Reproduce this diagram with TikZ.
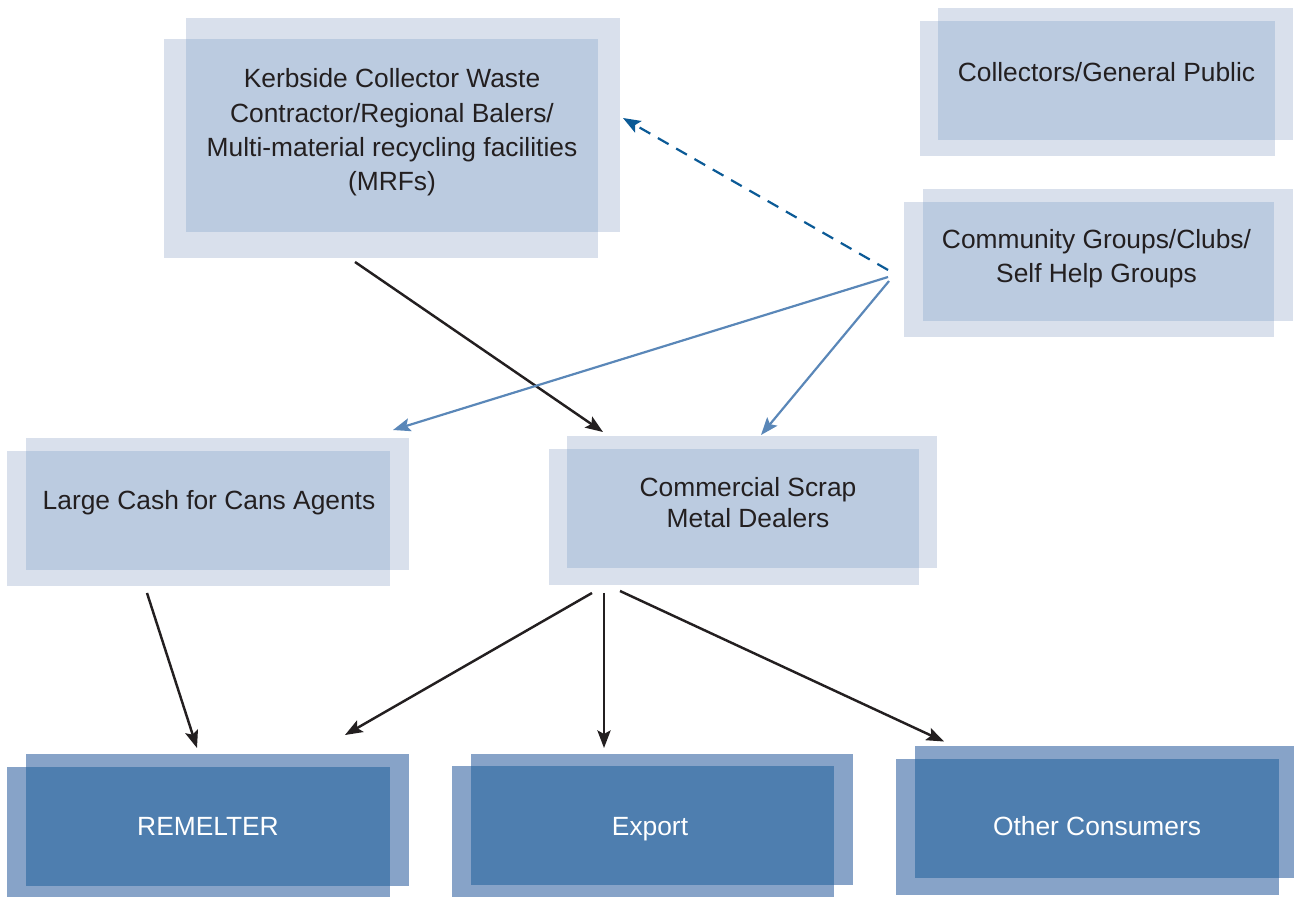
\documentclass[tikz,border=0pt]{standalone}
\usepackage{fontspec}
\setmainfont{Liberation Sans}
\usetikzlibrary{arrows.meta,calc,backgrounds}

\definecolor{boxlite}{HTML}{D9E0EC}
\definecolor{boxmid}{HTML}{BBCBE0}
\definecolor{endlite}{HTML}{87A3C8}
\definecolor{enddark}{HTML}{4E7EAF}
\definecolor{boxtext}{HTML}{231F20}
\definecolor{dashblue}{HTML}{0B5A96}
\definecolor{linkblue}{HTML}{5A87B8}

\tikzset{
  box/.style={inner sep=0pt, outer sep=0pt, minimum height=2.38cm},
  srcbox/.style={box, fill=boxmid},
  endbox/.style={box, fill=enddark},
  lbl/.style={inner sep=0pt, align=center, text=boxtext, font=\fontsize{15}{19.5}\selectfont},
  endlbl/.style={lbl, text=white},
  flow/.style={-{Stealth[length=10pt,width=7.5pt,inset=2pt]}, line width=1.4pt, color=boxtext},
  feed/.style={flow, line width=1.25pt, color=linkblue},
  maybe/.style={flow, line width=1.25pt, color=dashblue, dash pattern=on 7pt off 5pt},
}

\begin{document}
\begin{tikzpicture}[x=0.02cm, y=-0.02cm]
	\useasboundingbox (0,0) rectangle (1294,896);
	
	% sources
	\node[srcbox, minimum width=8.24cm, minimum height=3.86cm] (kerb) at (392,135.5) {};
	\node[srcbox, minimum width=6.74cm] (coll) at (1106.5,80.5) {};
	\node[srcbox, minimum width=7.02cm] (comm) at (1098.5,261.5) {};
	
	% middlemen
	\node[srcbox, minimum width=7.28cm] (cash) at (208,510.5) {};
	\node[srcbox, minimum width=7.04cm] (dealer) at (743,508.5) {};
	
	% end users
	\node[endbox, minimum width=7.28cm] (remelt) at (208,826.5) {};
	\node[endbox, minimum width=7.26cm] (export) at (652.5,825.5) {};
	\node[endbox, minimum width=7.28cm] (other) at (1097,818) {};
	
	% the two offset sheets behind each box
	\begin{scope}[on background layer]
		\foreach \n/\e/\t/\b/\c in {kerb/22/21/26/boxlite, coll/18/13/16/boxlite,
			comm/19/13/16/boxlite, cash/19/13/16/boxlite, dealer/18/13/17/boxlite,
			remelt/19/13/16/endlite, export/19/12/16/endlite, other/19/13/17/endlite}
		{
			\fill[\c] (\n.south west) rectangle ($(\n.north east)+(\e,-\t)$);
			\fill[\c] ($(\n.south west)+(-\e,\b)$) rectangle (\n.north east);
		}
	\end{scope}
	
	% box texts
	\node[lbl] (kerb-t) at ($(kerb)+(0,-3)$)
		{Kerbside Collector Waste\\Contractor/Regional Balers/\\Multi-material recycling facilities\\(MRFs)};
	\node[lbl] (coll-t) at ($(coll)+(0,-8)$) {Collectors/General Public};
	\node[lbl] (comm-t) at ($(comm)+(-2,-2.5)$) {Community Groups/Clubs/\\Self Help Groups};
	\node[lbl] (cash-t) at ($(cash)+(1,-8)$) {Large Cash for Cans Agents};
	\node[lbl, font=\fontsize{15}{18}\selectfont] (dealer-t) at ($(dealer)+(5,-6)$) {Commercial Scrap\\Metal Dealers};
	\node[endlbl] (remelt-t) at (remelt) {REMELTER};
	\node[endlbl] (export-t) at ($(export)+(-2.5,4)$) {Export};
	\node[endlbl] (other-t) at ($(other)+(0,8)$) {Other Consumers};
	
	% flows
	\draw[flow] ($(kerb.south)+(-37,30)$) -- ($(dealer.north)+(-140,-17)$);
	\draw[maybe] ($(comm.west)+(-35,8.5)$) -- ($(kerb.east)+(25,-17.5)$);
	\draw[feed] ($(comm.west)+(-35,15.5)$) -- ($(cash.north east)+(3,-21)$);
	\draw[feed] ($(comm.west)+(-34,19.5)$) -- ($(dealer.north)+(18,-14)$);
	\draw[flow] ($(cash.south)+(-61,23)$) -- ($(remelt.north)+(-11,-19)$);
	\draw[flow] ($(dealer.south)+(-151,25)$) -- ($(remelt.north east)+(-45,-32)$);
	\draw[flow] ($(dealer.south)+(-139,25)$) -- ($(export.north)+(-48.5,-18)$);
	\draw[flow] ($(dealer.south)+(-123,23)$) -- ($(other.north west)+(29,-17)$);
\end{tikzpicture}
\end{document}
